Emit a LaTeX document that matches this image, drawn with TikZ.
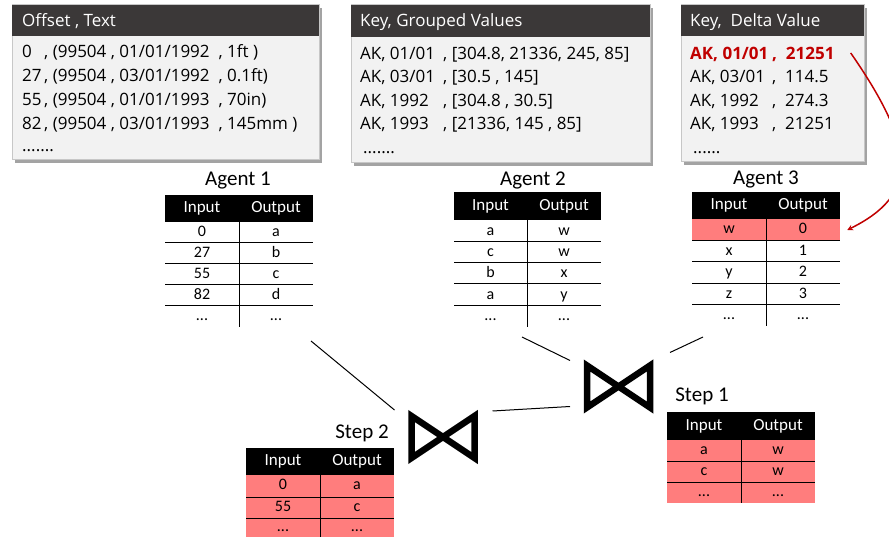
\documentclass[tikz,border=0pt]{standalone}
\usepackage{fontspec}
\setmainfont{Carlito}
\newfontfamily\boxfont{Open Sans}
\newlength{\du}
\setlength{\du}{1pt}
\definecolor{headcolor}{rgb}{0.231, 0.220, 0.220}
\definecolor{bodycolor}{rgb}{0.949, 0.949, 0.949}
\definecolor{edgecolor}{rgb}{0.780, 0.780, 0.780}
\definecolor{shadecolor}{rgb}{0.640, 0.640, 0.640}
\definecolor{hitcolor}{rgb}{1.000, 0.490, 0.490}
\definecolor{keycolor}{rgb}{0.753, 0.000, 0.000}
\tikzset{
  boxtext/.style={anchor=base west, inner sep=0pt, font=\boxfont\fontsize{17\du}{20\du}\selectfont},
  headtext/.style={boxtext, text=white},
  keytext/.style={boxtext, text=keycolor, font=\boxfont\bfseries\fontsize{17\du}{20\du}\selectfont},
  tablelabel/.style={inner sep=0pt, font=\fontsize{21\du}{24\du}\selectfont},
  headcell/.style={inner sep=0pt, text=white, text height=11.5\du, text depth=3\du, font=\fontsize{17\du}{19\du}\selectfont},
  cell/.style={inner sep=0pt, text height=10.5\du, text depth=3\du, font=\fontsize{16\du}{18\du}\selectfont},
  tablearea/.style={anchor=north west, inner sep=0pt, outer sep=0pt},
  rowline/.style={line width=1\du, black},
  bowtie/.style={inner sep=0pt, outer sep=0pt, minimum width=63\du, minimum height=42\du},
  bowline/.style={line width=6.5\du, black, line join=miter},
  joinline/.style={line width=1\du, black},
  pickline/.style={line width=1.5\du, keycolor, -stealth},
}

\begin{document}
\begin{tikzpicture}[x=1\du, y=-1\du]
\useasboundingbox (0,0) rectangle (889,537);

% box 1 : offset, text
\fill[shadecolor] (15,8) rectangle (322,163);
\fill[bodycolor] (12,5) rectangle (319,160);
\draw[edgecolor, line width=1\du] (12,5) rectangle (319,160);
\fill[headcolor] (12,5) rectangle (319,36);
\node[headtext] (box1head) at (22,27) {Offset , Text};
\node[boxtext] (box1row1) at (22,58) {\makebox[22\du][l]{0}, (99504 , 01/01/1992\ \ , 1ft )};
\node[boxtext] (box1row2) at (22,82) {\makebox[22\du][l]{27}, (99504 , 03/01/1992\ \ , 0.1ft)};
\node[boxtext] (box1row3) at (22,106) {\makebox[22\du][l]{55}, (99504 , 01/01/1993\ \ , 70in)};
\node[boxtext] (box1row4) at (22,130) {\makebox[22\du][l]{82}, (99504 , 03/01/1993\ \ , 145mm )};
\node[boxtext] (box1more) at (22,152) {.......};

% box 2 : key, grouped values
\fill[shadecolor] (354,8) rectangle (653,166);
\fill[bodycolor] (351,5) rectangle (650,163);
\draw[edgecolor, line width=1\du] (351,5) rectangle (650,163);
\fill[headcolor] (351,5) rectangle (650,37);
\node[headtext] (box2head) at (360,27) {Key, Grouped Values};
\node[boxtext] (box2row1) at (360,60) {\makebox[83\du][l]{AK, 01/01}, [304.8, 21336, 245, 85]};
\node[boxtext] (box2row2) at (360,83) {\makebox[83\du][l]{AK, 03/01}, [30.5 , 145]};
\node[boxtext] (box2row3) at (360,107) {\makebox[83\du][l]{AK, 1992}, [304.8 , 30.5]};
\node[boxtext] (box2row4) at (360,130) {\makebox[83\du][l]{AK, 1993}, [21336, 145 , 85]};
\node[boxtext] (box2more) at (363,154) {.......};

% box 3 : key, delta value
\fill[shadecolor] (684,8) rectangle (867,165);
\fill[bodycolor] (681,5) rectangle (864,162);
\draw[edgecolor, line width=1\du] (681,5) rectangle (864,162);
\fill[headcolor] (681,5) rectangle (864,36);
\node[headtext] (box3head) at (690,27) {Key,\ \ Delta Value};
\node[keytext] (box3row1) at (690,60) {\makebox[82\du][l]{AK, 01/01}, \ 21251};
\node[boxtext] (box3row2) at (690,83) {\makebox[82\du][l]{AK, 03/01}, \ 114.5};
\node[boxtext] (box3row3) at (690,107) {\makebox[82\du][l]{AK, 1992}, \ 274.3};
\node[boxtext] (box3row4) at (690,130) {\makebox[82\du][l]{AK, 1993}, \ 21251};
\node[boxtext] (box3more) at (693,154) {......};

% agent 1
\node[tablelabel] (agent1label) at (238,181) {Agent 1};
\node[tablearea, minimum width=148\du, minimum height=132\du] (agent1) at (165,195) {};
\fill[black] (165,195) rectangle (313,222);
\draw[rowline] (165,243) -- (313,243);
\draw[rowline] (165,264) -- (313,264);
\draw[rowline] (165,285) -- (313,285);
\draw[rowline] (165,306) -- (313,306);
\draw[rowline] (239,222) -- (239,327);
\node[headcell] (agent1in) at (202,208.5) {Input};
\node[headcell] (agent1out) at (276,208.5) {Output};
\node[cell] at (202,232.5) {0};
\node[cell] at (276,232.5) {a};
\node[cell] at (202,253.5) {27};
\node[cell] at (276,253.5) {b};
\node[cell] at (202,274.5) {55};
\node[cell] at (276,274.5) {c};
\node[cell] at (202,295.5) {82};
\node[cell] at (276,295.5) {d};
\node[cell] at (202,316.5) {...};
\node[cell] at (276,316.5) {...};

% agent 2
\node[tablelabel] (agent2label) at (533,180) {Agent 2};
\node[tablearea, minimum width=147\du, minimum height=135\du] (agent2) at (454,192) {};
\fill[black] (454,192) rectangle (601,220);
\draw[rowline] (454,242) -- (601,242);
\draw[rowline] (454,263) -- (601,263);
\draw[rowline] (454,284) -- (601,284);
\draw[rowline] (454,306) -- (601,306);
\draw[rowline] (527,220) -- (527,327);
\node[headcell] (agent2in) at (490.5,206) {Input};
\node[headcell] (agent2out) at (564,206) {Output};
\node[cell] at (490.5,232) {a};
\node[cell] at (564,232) {w};
\node[cell] at (490.5,253) {c};
\node[cell] at (564,253) {w};
\node[cell] at (490.5,274) {b};
\node[cell] at (564,274) {x};
\node[cell] at (490.5,295.5) {a};
\node[cell] at (564,295.5) {y};
\node[cell] at (490.5,316.5) {...};
\node[cell] at (564,316.5) {...};

% agent 3
\node[tablelabel] (agent3label) at (766,179) {Agent 3};
\node[tablearea, minimum width=148\du, minimum height=134\du] (agent3) at (692,192) {};
\fill[black] (692,192) rectangle (840,219);
\fill[hitcolor] (692,219) rectangle (840,241);
\draw[rowline] (692,241) -- (840,241);
\draw[rowline] (692,262) -- (840,262);
\draw[rowline] (692,284) -- (840,284);
\draw[rowline] (692,305) -- (840,305);
\draw[rowline] (766,219) -- (766,326);
\node[headcell] (agent3in) at (729,205.5) {Input};
\node[headcell] (agent3out) at (803,205.5) {Output};
\node[cell] (agent3w) at (729,230) {w};
\node[cell] (agent3zero) at (803,230) {0};
\node[cell] at (729,251.5) {x};
\node[cell] at (803,251.5) {1};
\node[cell] at (729,273) {y};
\node[cell] at (803,273) {2};
\node[cell] at (729,294.5) {z};
\node[cell] at (803,294.5) {3};
\node[cell] at (729,315.5) {...};
\node[cell] at (803,315.5) {...};

% step 1
\node[tablelabel] (step1label) at (702,396) {Step 1};
\node[tablearea, minimum width=148\du, minimum height=91\du] (step1) at (667,412) {};
\fill[black] (667,412) rectangle (815,440);
\fill[hitcolor] (667,440) rectangle (815,503);
\draw[rowline] (667,461) -- (815,461);
\draw[rowline] (667,482) -- (815,482);
\draw[rowline] (741,440) -- (741,503);
\node[headcell] (step1in) at (704,426) {Input};
\node[headcell] (step1out) at (778,426) {Output};
\node[cell] at (704,450.5) {a};
\node[cell] at (778,450.5) {w};
\node[cell] at (704,471.5) {c};
\node[cell] at (778,471.5) {w};
\node[cell] at (704,492.5) {...};
\node[cell] at (778,492.5) {...};

% step 2
\node[tablelabel] (step2label) at (362,433) {Step 2};
\node[tablearea, minimum width=148\du, minimum height=89\du] (step2) at (246,448) {};
\fill[black] (246,448) rectangle (394,475);
\fill[hitcolor] (246,475) rectangle (394,537);
\draw[rowline] (246,497) -- (394,497);
\draw[rowline] (246,518) -- (394,518);
\draw[rowline] (320,475) -- (320,537);
\node[headcell] (step2in) at (283,461.5) {Input};
\node[headcell] (step2out) at (357,461.5) {Output};
\node[cell] at (283,486) {0};
\node[cell] at (357,486) {a};
\node[cell] at (283,507.5) {55};
\node[cell] at (357,507.5) {c};
\node[cell] at (283,527.5) {...};
\node[cell] at (357,527.5) {...};

% joins
\node[bowtie] (join1) at (618.5,386.5) {};
\draw[bowline] (join1.north west) -- (join1.south east) -- (join1.north east) -- (join1.south west) -- cycle;
\node[bowtie] (join2) at (443,437) {};
\draw[bowline] (join2.north west) -- (join2.south east) -- (join2.north east) -- (join2.south west) -- cycle;

\draw[joinline] ([shift={(-2,14)}]agent1.south east) -- ([shift={(-17,-6)}]join2.north west);
\draw[joinline] ([shift={(-79,10)}]agent2.south east) -- ([shift={(-17,-5)}]join1.north west);
\draw[joinline] ([shift={(11,11)}]agent3.south west) -- ([shift={(20,-13)}]join1.north east);
\draw[joinline] ([shift={(-17,-1)}]join1.south west) -- ([shift={(18,-5)}]join2.north east);

% red pick arrow
\draw[pickline] ([xshift=16\du, yshift=2\du]box3row1.east) .. controls (918,150) and (918,195) .. ([xshift=40\du]agent3zero.east);
\end{tikzpicture}
\end{document}
